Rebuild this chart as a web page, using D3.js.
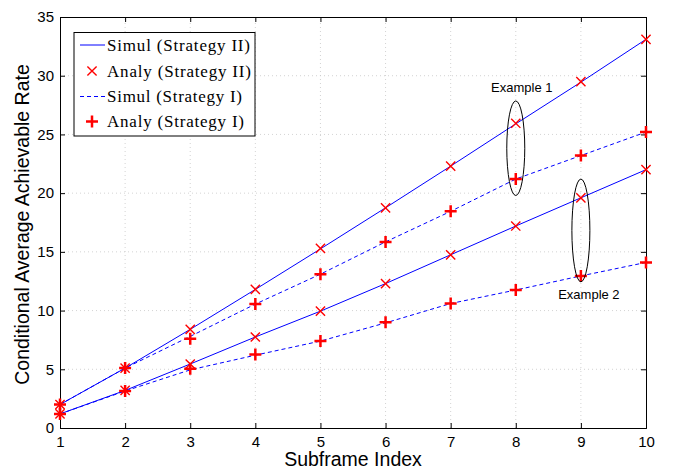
<!DOCTYPE html>
<html><head><meta charset="utf-8">
<script src="https://cdn.jsdelivr.net/npm/d3@7"></script>
<style>body{margin:0;background:#fff}svg{display:block}</style>
</head><body>
<svg id="c" width="674" height="469"></svg>
<script>
const xs = [1,2,3,4,5,6,7,8,9,10];
const ex1Simul2 = [2.0, 5.1, 8.4, 11.8, 15.25, 18.75, 22.3, 25.9, 29.45, 33.1];
const ex1Analy2 = [2.0, 5.1, 8.4, 11.8, 15.3, 18.75, 22.3, 25.95, 29.5, 33.1];
const ex1Simul1 = [2.0, 5.1, 7.8, 10.55, 13.1, 15.85, 18.45, 21.2, 23.2, 25.2];
const ex1Analy1 = [2.0, 5.1, 7.6, 10.55, 13.1, 15.85, 18.45, 21.2, 23.2, 25.2];
const ex2Simul2 = [1.2, 3.2, 5.45, 7.75, 9.95, 12.3, 14.75, 17.2, 19.6, 22.0];
const ex2Analy2 = [1.2, 3.2, 5.45, 7.75, 9.95, 12.3, 14.75, 17.2, 19.6, 22.0];
const ex2Simul1 = [1.2, 3.15, 4.95, 6.2, 7.4, 8.95, 10.6, 11.75, 12.95, 14.1];
const ex2Analy1 = [1.2, 3.15, 5.05, 6.25, 7.4, 9.0, 10.6, 11.75, 12.95, 14.1];
const yTicks = [0,5,10,15,20,25,30,35];
const legendLabels = ["Simul (Strategy II)","Analy (Strategy II)","Simul (Strategy I)","Analy (Strategy I)"];
const annotations = [
  {label:"Example 1", cx:8, y0:19.8, y1:27.85, textY:28.6, textDx:6},
  {label:"Example 2", cx:9, y0:12.45, y1:21.2, textY:11.0, textDx:8}
];

const svg = d3.select("#c");
const m = {l:60, r:28, t:17, b:41};
const W = 674, H = 469;
const x = d3.scaleLinear().domain([1,10]).range([m.l, W-m.r]);
const y = d3.scaleLinear().domain([0,35]).range([H-m.b, m.t]);

// grid
const g = svg.append("g");
g.selectAll(".gx").data(xs.slice(1,-1)).enter().append("line")
  .attr("x1",d=>x(d)).attr("x2",d=>x(d)).attr("y1",y(0)).attr("y2",y(35))
  .attr("stroke","#c8c8c8").attr("stroke-width",0.8).attr("stroke-dasharray","1,3");
g.selectAll(".gy").data(yTicks.slice(1,-1)).enter().append("line")
  .attr("x1",x(1)).attr("x2",x(10)).attr("y1",d=>y(d)).attr("y2",d=>y(d))
  .attr("stroke","#c8c8c8").attr("stroke-width",0.8).attr("stroke-dasharray","1,3");

// axes
const fontSans = "'Liberation Sans', Arial, Helvetica, sans-serif";
const ax = svg.append("g").attr("transform",`translate(0,${y(0)})`)
  .call(d3.axisBottom(x).tickValues(xs).tickSize(-5).tickPadding(8).tickFormat(d3.format("d")));
const ay = svg.append("g").attr("transform",`translate(${x(1)},0)`)
  .call(d3.axisLeft(y).tickValues(yTicks).tickSize(-5).tickPadding(6));
const axT = svg.append("g").attr("transform",`translate(0,${y(35)})`)
  .call(d3.axisTop(x).tickValues(xs).tickSize(-5).tickFormat(""));
const ayR = svg.append("g").attr("transform",`translate(${x(10)},0)`)
  .call(d3.axisRight(y).tickValues(yTicks).tickSize(-5).tickFormat(""));
[ax,ay,axT,ayR].forEach(a=>{
  a.selectAll("path,line").attr("stroke","#000").attr("stroke-width",1);
  a.selectAll("text").attr("fill","#000").style("font-family",fontSans).style("font-size","15px");
});

// lines
const line = arr => d3.line().x((d,i)=>x(xs[i])).y(d=>y(d))(arr);
const series = [
  {d:ex1Simul2, dash:null},{d:ex1Simul1, dash:"4,3"},
  {d:ex2Simul2, dash:null},{d:ex2Simul1, dash:"4,3"}
];
series.forEach(s=>{
  svg.append("path").attr("d",line(s.d)).attr("fill","none")
    .attr("stroke","#0000ff").attr("stroke-width",1)
    .attr("stroke-dasharray",s.dash);
});

// markers
function xMark(sel, cx, cy){
  const r=4.6;
  sel.append("path").attr("d",`M${cx-r},${cy-r}L${cx+r},${cy+r}M${cx-r},${cy+r}L${cx+r},${cy-r}`)
    .attr("stroke","#ff0000").attr("stroke-width",1.4).attr("fill","none");
}
function plusMark(sel, cx, cy){
  const r=6;
  sel.append("path").attr("d",`M${cx-r},${cy}L${cx+r},${cy}M${cx},${cy-r}L${cx},${cy+r}`)
    .attr("stroke","#ff0000").attr("stroke-width",2.5).attr("fill","none");
}
const mk = svg.append("g");
[ex1Analy2, ex2Analy2].forEach(arr=>arr.forEach((v,i)=>xMark(mk,x(xs[i]),y(v))));
[ex1Analy1, ex2Analy1].forEach(arr=>arr.forEach((v,i)=>plusMark(mk,x(xs[i]),y(v))));

// annotations
annotations.forEach(a=>{
  const cy = (y(a.y0)+y(a.y1))/2, ry = (y(a.y0)-y(a.y1))/2;
  svg.append("ellipse").attr("cx",x(a.cx)).attr("cy",cy).attr("rx",9).attr("ry",ry)
    .attr("fill","none").attr("stroke","#000").attr("stroke-width",1);
  svg.append("text").attr("x",x(a.cx)+a.textDx).attr("y",y(a.textY)).attr("text-anchor","middle")
    .style("font-family",fontSans).style("font-size","13px").text(a.label);
});

// axis titles
svg.append("text").attr("x",(x(1)+x(10))/2).attr("y",466).attr("text-anchor","middle")
  .style("font-family",fontSans).style("font-size","19.5px").text("Subframe Index");
svg.append("text").attr("transform",`translate(29,${(y(0)+y(35))/2 + 2}) rotate(-90)`).attr("text-anchor","middle")
  .style("font-family",fontSans).style("font-size","19.5px").text("Conditional Average Achievable Rate");

// legend
const lg = svg.append("g");
lg.append("rect").attr("x",74).attr("y",32.5).attr("width",181).attr("height",103.5)
  .attr("fill","#fff").attr("stroke","#000").attr("stroke-width",1);
const rowY = [45, 71, 96.5, 121.5];
const legendLens = [143, 144, 135, 137];
legendLabels.forEach((t,i)=>{
  const yy = rowY[i];
  if(i===0||i===2){
    lg.append("line").attr("x1",80).attr("x2",105).attr("y1",yy).attr("y2",yy)
      .attr("stroke","#0000ff").attr("stroke-width",1).attr("stroke-dasharray",i===2?"4,3":null);
  } else if(i===1){ xMark(lg,92,yy); } else { plusMark(lg,92,yy); }
  lg.append("text").attr("x",107).attr("y",yy+5.5).style("font-family","'Liberation Serif','DejaVu Serif',serif")
    .style("font-size","17px").attr("textLength",legendLens[i]).attr("lengthAdjust","spacing").text(t);
});
</script>
</body></html>
